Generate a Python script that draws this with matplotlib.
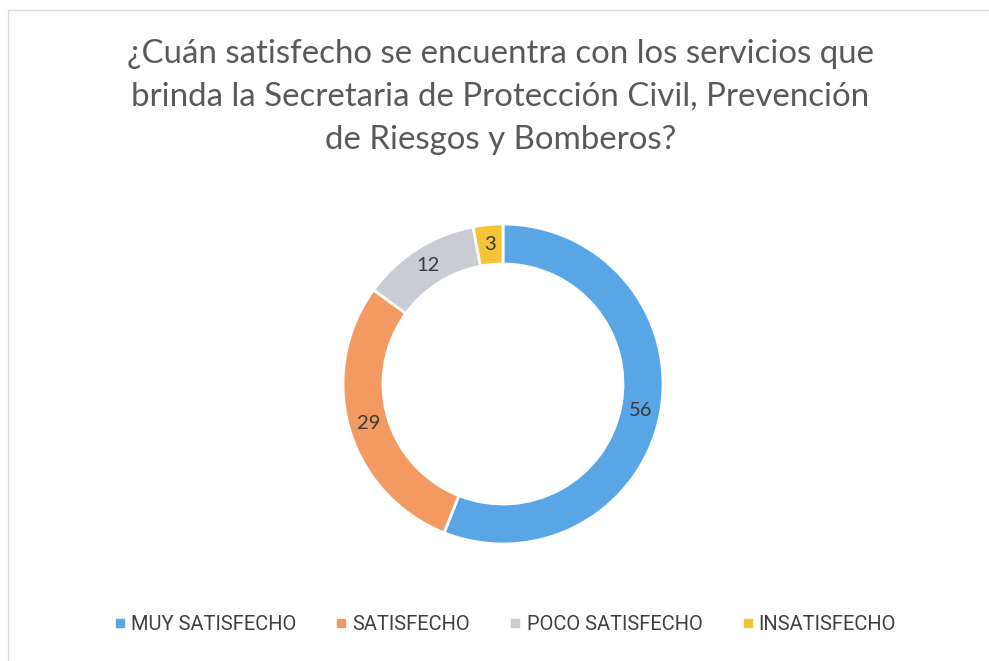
import matplotlib.pyplot as plt
import numpy as np
from matplotlib.patches import Rectangle

# Datos del gráfico
categorias = ['MUY SATISFECHO', 'SATISFECHO', 'POCO SATISFECHO', 'INSATISFECHO']
valores = [56, 29, 12, 3]
colores = ['#58a6e6', '#f39a63', '#c9ccd3', '#f4c338']
titulo = ('¿Cuán satisfecho se encuentra con los servicios que\n'
          'brinda la Secretaria de Protección Civil, Prevención\n'
          'de Riesgos y Bomberos?')

plt.rcParams['font.family'] = ['Lato', 'DejaVu Sans']

fig = plt.figure(figsize=(9.89, 6.61), dpi=100)
fig.patch.set_facecolor('white')

# Borde del área del gráfico
fig.patches.append(Rectangle((8 / 989, -0.01), 1.0, 1 - 10 / 661 + 0.01,
                             transform=fig.transFigure, fill=False,
                             edgecolor='#dcdcdc', linewidth=1))

# Título
fig.text(0.506, 1 - 97 / 661, titulo, ha='center', va='center',
         fontsize=23.8, color='#595959', linespacing=1.55)

# Dona
ax = fig.add_axes([(503 - 170) / 989, 1 - (384 + 170) / 661,
                   340 / 989, 340 / 661])
wedges, _ = ax.pie(valores, colors=colores, startangle=90, counterclock=False,
                   radius=1, wedgeprops=dict(width=0.25, edgecolor='white',
                                             linewidth=2))
for w, v in zip(wedges, valores):
    ang = np.deg2rad((w.theta1 + w.theta2) / 2)
    ax.text(0.875 * np.cos(ang), 0.875 * np.sin(ang), str(v),
            ha='center', va='center', fontsize=14.5, color='#3a3a3a')
ax.set_xlim(-1.0625, 1.0625)
ax.set_ylim(-1.0625, 1.0625)
ax.set_aspect('equal')
ax.axis('off')

# Leyenda
handles = [plt.Line2D([], [], marker='s', linestyle='', markersize=6,
                      color=c) for c in colores]
fig.legend(handles, categorias, loc='center', ncol=4,
           bbox_to_anchor=(0.51, 1 - 625 / 661), frameon=False,
           labelcolor='#404040', handletextpad=0.2,
           columnspacing=1.9, handlelength=0.7,
           prop={'family': ['Roboto', 'DejaVu Sans'], 'size': 14.5})

fig.savefig('out.png', dpi=100, facecolor='white')
